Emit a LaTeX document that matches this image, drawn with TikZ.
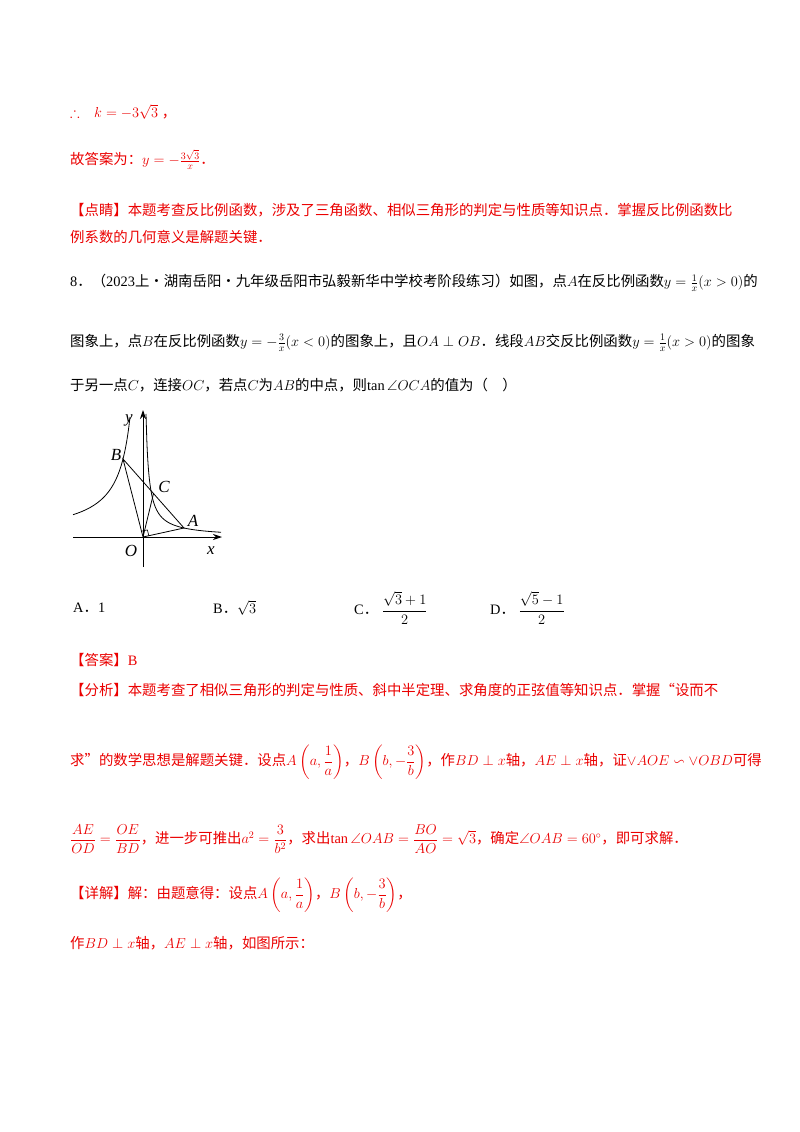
\documentclass[tikz,border=0pt]{standalone}
\usepackage{amsmath,amssymb}
\usepackage{fontspec}
\usetikzlibrary{arrows.meta,calc}
\setmainfont{Liberation Serif}
\newfontfamily\cjk{Noto Sans CJK SC}
\newcommand\zh[1]{{\cjk #1}}
\definecolor{ans}{RGB}{235,0,0}
\begin{document}
\begin{tikzpicture}[x=1pt,y=-1pt,
  ln/.style={anchor=west,inner sep=0pt,font=\fontsize{14.4}{17}\selectfont},
  rd/.style={ln,text=ans},
  lab/.style={inner sep=0pt,font=\fontsize{17}{17}\selectfont\itshape}]
\useasboundingbox (0,0) rectangle (800,1132);
\fill[white] (0,0) rectangle (800,1132);
% red solution lines
\node[rd] (l1) at (70,112) {$\therefore$\quad $k=-3\sqrt{3}$\ \zh{，}};
\node[rd] (l2) at (70,160) {\zh{故答案为：}$y=-\frac{3\sqrt{3}}{x}$\zh{．}};
\node[rd] (l3) at (70,210) {\zh{【点睛】本题考查反比例函数，涉及了三角函数、相似三角形的判定与性质等知识点．掌握反比例函数比}};
\node[rd] (l4) at (70,237) {\zh{例系数的几何意义是解题关键．}};
% question
\node[ln] (q1) at (70,283) {8\zh{．（}2023\zh{上·湖南岳阳·九年级岳阳市弘毅新华中学校考阶段练习）如图，点}$A$\zh{在反比例函数}$y=\frac{1}{x}(x>0)$\zh{的}};
\node[ln] (q2) at (70,343) {\zh{图象上，点}$B$\zh{在反比例函数}$y=-\frac{3}{x}(x<0)$\zh{的图象上，且}$OA\perp OB$\zh{．线段}$AB$\zh{交反比例函数}$y=\frac{1}{x}(x>0)$\zh{的图象}};
\node[ln] (q3) at (70,385) {\zh{于另一点}$C$\zh{，连接}$OC$\zh{，若点}$C$\zh{为}$AB$\zh{的中点，则}$\tan\angle OCA$\zh{的值为（\quad ）}};
% figure
\coordinate (O) at (143,537);
\coordinate (A) at (184,528);
\coordinate (B) at (123,459);
\coordinate (C) at (153.5,493.5);
\coordinate (xe) at (222,537);
\coordinate (ye) at (143,410);
\draw[line width=0.9pt,-{Stealth[length=9pt,width=6pt]}] (73,537) -- (xe);
\draw[line width=0.9pt,-{Stealth[length=9pt,width=6pt]}] (143,567) -- (ye);
\draw[line width=0.8pt] plot[domain=-70:-13,samples=60,smooth] ({143+\x},{537+1560/\x});
\draw[line width=0.8pt] plot[domain=3:78,samples=80,smooth] ({143+\x},{537-369/\x});
\draw[line width=0.8pt] (O) -- (A) -- (B) -- cycle (O) -- (C);
\draw[line width=0.6pt] ($(O)!6pt!(A)$) -- ++(-1.5,-5.8) -- ($(O)!6pt!(B)$);
\node[lab] (ly) at (129,420) {y};
\node[lab] (lB) at (116,455) {B};
\node[lab] (lC) at (164,487) {C};
\node[lab] (lA) at (193,521) {A};
\node[lab] (lO) at (131,551) {O};
\node[lab] (lx) at (211,551) {x};
% options
\node[ln] (oa) at (73,608) {A\zh{．}1};
\node[ln] (ob) at (213,608) {B\zh{．}$\sqrt{3}$};
\node[ln] (oc) at (354,608) {C\zh{．}\ $\dfrac{\sqrt{3}+1}{2}$};
\node[ln] (od) at (490,608) {D\zh{．}\ $\dfrac{\sqrt{5}-1}{2}$};
% answer
\node[rd] (an) at (70,660) {\zh{【答案】}B};
\node[rd] (fx) at (70,690) {\zh{【分析】本题考查了相似三角形的判定与性质、斜中半定理、求角度的正弦值等知识点．掌握“设而不}};
\node[rd] (f2) at (70,762) {\zh{求”的数学思想是解题关键．设点}$A\left(a,\dfrac{1}{a}\right)$\zh{，}$B\left(b,-\dfrac{3}{b}\right)$\zh{，作}$BD\perp x$\zh{轴，}$AE\perp x$\zh{轴，证}$\vee AOE\backsim\vee OBD$\zh{可得}};
\node[rd] (f3) at (70,839) {$\dfrac{AE}{OD}=\dfrac{OE}{BD}$\zh{，进一步可推出}$a^2=\dfrac{3}{b^2}$\zh{，求出}$\tan\angle OAB=\dfrac{BO}{AO}=\sqrt{3}$\zh{，确定}$\angle OAB=60^\circ$\zh{，即可求解．}};
\node[rd] (d1) at (70,895) {\zh{【详解】解：由题意得：设点}$A\left(a,\dfrac{1}{a}\right)$\zh{，}$B\left(b,-\dfrac{3}{b}\right)$\zh{，}};
\node[rd] (d2) at (70,943) {\zh{作}$BD\perp x$\zh{轴，}$AE\perp x$\zh{轴，如图所示：}};
\end{tikzpicture}
\end{document}
